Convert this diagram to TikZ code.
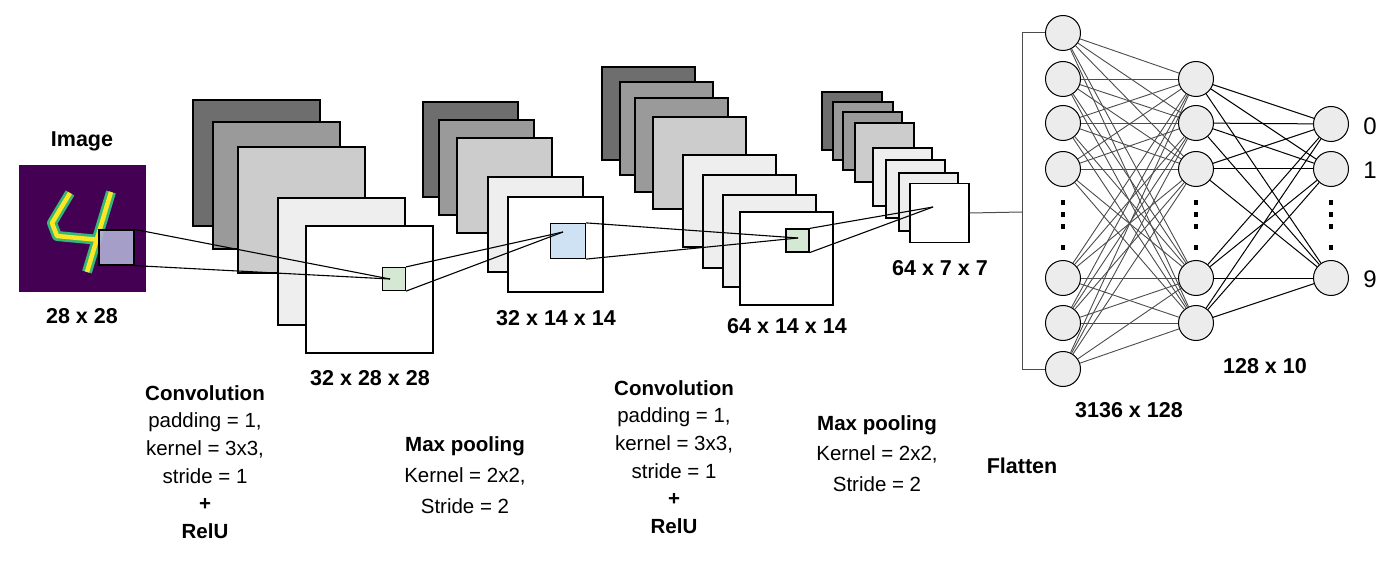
\documentclass[tikz,border=0pt]{standalone}
\usepackage{fontspec}
\setmainfont{Liberation Sans}
\begin{document}
\begin{tikzpicture}[x=1pt,y=-1pt,
  lay/.style={draw=black,line width=1.4pt},
  sq/.style={draw=black,line width=1.2pt,inner sep=0pt,minimum width=#1,minimum height=#1},
  neu/.style={circle,draw=black,line width=1pt,fill=gray!15,minimum size=35pt,inner sep=0pt},
  lbl/.style={font=\fontsize{21.5}{25}\selectfont\bfseries},
  txt/.style={font=\fontsize{20.5}{27.6}\selectfont,align=center},
  conn/.style={line width=1.1pt},
  e1/.style={draw=black!70,line width=0.9pt},
  e2/.style={draw=black,line width=1pt}]
\useasboundingbox (0,0) rectangle (1400,564);
\definecolor{c1}{HTML}{6E6E6E}\definecolor{c2}{HTML}{9A9A9A}
\definecolor{c3}{HTML}{CCCCCC}\definecolor{c4}{HTML}{EEEEEE}
\definecolor{vpurple}{HTML}{440154}\definecolor{vyel}{HTML}{FDE725}\definecolor{vgreen}{HTML}{35B779}
\definecolor{gsq}{HTML}{D5E8D4}\definecolor{bsq}{HTML}{CFE2F3}
% input image
\node[draw=none,fill=vpurple,minimum size=127pt,inner sep=0pt] (img) at (82.5,228.5) {};
\draw[vgreen,line width=10pt,line join=round] (70,193) -- (52,223) -- (57,236) -- (100,240);
\draw[vgreen,line width=10pt] (111,192) -- (87,272);
\draw[vyel,line width=4.5pt,line join=round] (70,193) -- (52,223) -- (57,236) -- (100,240);
\draw[vyel,line width=4.5pt] (111,192) -- (87,272);
\node[sq=35pt,fill={rgb,255:red,176;green,176;blue,214},fill opacity=0.9] (isq) at (116.5,247.5) {};
\node[lbl] (timg) at (82,141) {Image};
\node[lbl] (t28) at (82,316) {28 x 28};
% stack 1
\draw[lay,fill=c1] (193,100) rectangle (320,226);
\draw[lay,fill=c2] (213,122) rectangle (340,249);
\draw[lay,fill=c3] (238,147) rectangle (365,273);
\draw[lay,fill=c4] (278,198) rectangle (405,325);
\draw[lay,fill=white] (306,226) rectangle (433,353);
\node[sq=23pt,fill=gsq] (g1) at (394,279) {};
\coordinate (p1) at (390,279);
\node[lbl] (t1) at (370,378) {32 x 28 x 28};
% stack 2
\draw[lay,fill=c1] (423,102) rectangle (518,197);
\draw[lay,fill=c2] (439,120) rectangle (534,215);
\draw[lay,fill=c3] (457,138) rectangle (552,233);
\draw[lay,fill=c4] (488,177) rectangle (583,272);
\draw[lay,fill=white] (508,197) rectangle (603,292);
\node[sq=35pt,fill=bsq] (b2) at (568,241) {};
\coordinate (p2) at (563,232);
\node[lbl] (t2) at (556,318) {32 x 14 x 14};
% stack 3
\draw[lay,fill=c1] (602,67) rectangle (695,160);
\draw[lay,fill=c2] (620,82) rectangle (713,175);
\draw[lay,fill=c2] (635,98) rectangle (728,192);
\draw[lay,fill=c3] (653,117) rectangle (746,209);
\draw[lay,fill=c4] (683,155) rectangle (776,247);
\draw[lay,fill=c4] (703,175) rectangle (796,268);
\draw[lay,fill=c4] (723,195) rectangle (816,287);
\draw[lay,fill=white] (740,212) rectangle (833,305);
\node[sq=23pt,fill=gsq] (g3) at (797.5,240.5) {};
\coordinate (p3) at (798,238);
\node[lbl] (t3) at (787,326) {64 x 14 x 14};
% stack 4
\draw[lay,fill=c1] (822,92) rectangle (882,150);
\draw[lay,fill=c2] (833,102) rectangle (893,160);
\draw[lay,fill=c2] (843,112) rectangle (902,170);
\draw[lay,fill=c3] (855,123) rectangle (914,182);
\draw[lay,fill=c4] (873,148) rectangle (932,206);
\draw[lay,fill=c4] (886,160) rectangle (945,218);
\draw[lay,fill=c4] (899,173) rectangle (958,231);
\node[sq=59pt,fill=white,line width=1.4pt] (s4) at (939.5,213) {};
\coordinate (p4) at (933,207);
\node[lbl] (t4) at (940,268) {64 x 7 x 7};
% projection lines
\draw[conn] (isq.north east) -- (p1);
\draw[conn] (isq.south east) -- (p1);
\draw[conn] (g1.north east) -- (p2);
\draw[conn] (g1.south east) -- (p2);
\draw[conn] (b2.north east) -- (p3);
\draw[conn] (b2.south east) -- (p3);
\draw[conn] (g3.north east) -- (p4);
\draw[conn] (g3.south east) -- (p4);
% fully connected
\foreach \i/\y in {1/33,2/79,3/123,4/169,5/278,6/323,7/369} \node[neu] (a\i) at (1063,\y) {};
\foreach \i/\y in {1/79,2/123,3/169,4/278,5/323} \node[neu] (b\i) at (1196,\y) {};
\foreach \i/\y in {1/124,2/169,3/278} \node[neu] (c\i) at (1331,\y) {};
\foreach \i in {1,...,7} \foreach \j in {1,...,5} \draw[e1] (a\i) -- (b\j);
\foreach \i in {1,...,5} \foreach \j in {1,...,3} \draw[e2] (b\i) -- (c\j);
\coordinate (fa) at (1022,212); \coordinate (ft) at (1022,33); \coordinate (fb) at (1022,369);
\draw[e1,line width=1pt] (s4.east) -- (fa);
\draw[e1,line width=1pt] (a1.west) -- (ft) -- (fb) -- (a7.west);
\foreach \x in {1063,1196,1331} \foreach \y in {203,215,227,247} \fill (\x-2,\y-2.5) rectangle (\x+2,\y+2.5);
\node[font=\fontsize{24}{28}\selectfont] (o0) at (1370,126) {0};
\node[font=\fontsize{24}{28}\selectfont] (o1) at (1370,170) {1};
\node[font=\fontsize{24}{28}\selectfont] (o9) at (1370,279) {9};
\node[lbl] (t5) at (1129,410) {3136 x 128};
\node[lbl] (t6) at (1265,366) {128 x 10};
% descriptions
\node[txt,anchor=north] (d1) at (205,382) {\textbf{Convolution}\\padding = 1,\\kernel = 3x3,\\stride = 1\\\textbf{+}\\\textbf{RelU}};
\node[txt,anchor=north,font=\fontsize{20.5}{31}\selectfont] (d2) at (465,433) {\textbf{Max pooling}\\Kernel = 2x2,\\Stride = 2};
\node[txt,anchor=north] (d3) at (674,377) {\textbf{Convolution}\\padding = 1,\\kernel = 3x3,\\stride = 1\\\textbf{+}\\\textbf{RelU}};
\node[txt,anchor=north,font=\fontsize{20.5}{30.5}\selectfont] (d4) at (877,412) {\textbf{Max pooling}\\Kernel = 2x2,\\Stride = 2};
\node[lbl] (d5) at (1022,466) {Flatten};
\end{tikzpicture}
\end{document}
